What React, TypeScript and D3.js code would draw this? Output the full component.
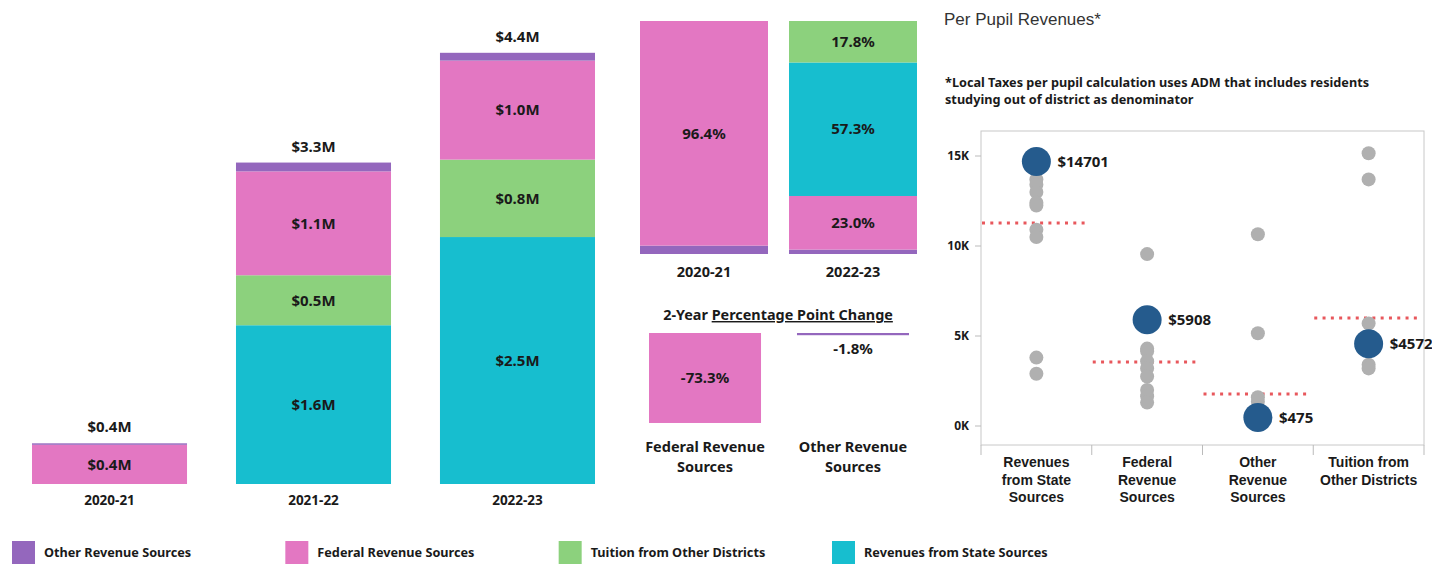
import React from 'react';
import * as d3 from 'd3';

// Stacked revenue by year ($M)
const years = ['2020-21', '2021-22', '2022-23'];
const stateRev = [0, 1.62, 2.52];
const tuitionRev = [0, 0.51, 0.79];
const federalRev = [0.4, 1.06, 1.01];
const otherRev = [0.015, 0.09, 0.08];

// Share of revenue (%)
const shareYears = ['2020-21', '2022-23'];
const otherShare = [3.6, 1.9];
const federalShare = [96.4, 23.0];
const stateShare = [0, 57.3];
const tuitionShare = [0, 17.8];

// 2-year percentage point change
const changeCats = ['Federal Revenue Sources', 'Other Revenue Sources'];
const changeVals = [-73.3, -1.8];

// Per pupil revenues
const pupilCats = ['Revenues from State Sources', 'Federal Revenue Sources', 'Other Revenue Sources', 'Tuition from Other Districts'];
const pupilCatLines = [['Revenues', 'from State', 'Sources'], ['Federal', 'Revenue', 'Sources'], ['Other', 'Revenue', 'Sources'], ['Tuition from', 'Other Districts']];
const peerState = [13700, 13400, 13000, 12400, 12250, 10900, 10500, 3800, 2900];
const peerFederal = [9550, 4300, 4150, 3600, 3200, 2750, 2000, 1650, 1300];
const peerOther = [10650, 5150, 1600, 1350];
const peerTuition = [15150, 13700, 5700, 3400, 3200];
const districtPupil = [14701, 5908, 475, 4572];
const peerAverage = [11280, 3560, 1780, 6000];
const pupilTicks = [0, 5000, 10000, 15000];

const legendKeys = ['Other Revenue Sources', 'Federal Revenue Sources', 'Tuition from Other Districts', 'Revenues from State Sources'];

const colors: Record<string, string> = {
  'Other Revenue Sources': '#9467bd',
  'Federal Revenue Sources': '#e377c2',
  'Tuition from Other Districts': '#8cd17d',
  'Revenues from State Sources': '#17becf',
};

const labelFont = '"Noto Sans", "Open Sans", sans-serif';
const arial = '"Liberation Sans", Arial, sans-serif';
const ink = '#1a1a1a';

const fmtM = (v: number) => `$${v.toFixed(1)}M`;

function RevenueBars() {
  const rows = years.map((year, i) => ({
    year,
    'Revenues from State Sources': stateRev[i],
    'Tuition from Other Districts': tuitionRev[i],
    'Federal Revenue Sources': federalRev[i],
    'Other Revenue Sources': otherRev[i],
  }));
  const keys = ['Revenues from State Sources', 'Tuition from Other Districts', 'Federal Revenue Sources', 'Other Revenue Sources'];
  const series = d3.stack<any>().keys(keys)(rows);

  const x = d3.scaleBand().domain(years).range([32, 595]).paddingInner(0.24);
  const y = d3.scaleLinear().domain([0, 4.5]).range([484, 43]);

  return (
    <g>
      {series.map((s) => (
        <g key={s.key} fill={colors[s.key]}>
          {s.map((d, i) => {
            const h = y(d[0]) - y(d[1]);
            if (h <= 0) return null;
            return <rect key={i} x={x(years[i])} y={y(d[1])} width={x.bandwidth()} height={h} />;
          })}
        </g>
      ))}
      {series.map((s) =>
        s.map((d, i) => {
          const v = d[1] - d[0];
          if (v < 0.3) return null;
          return (
            <text key={s.key + i} x={x(years[i])! + x.bandwidth() / 2} y={(y(d[0]) + y(d[1])) / 2} dy="0.35em"
              textAnchor="middle" fontFamily={labelFont} fontWeight={700} fontSize={15} fill={ink}>
              {fmtM(v)}
            </text>
          );
        })
      )}
      {years.map((year, i) => {
        const total = stateRev[i] + tuitionRev[i] + federalRev[i] + otherRev[i];
        return (
          <g key={year}>
            <text x={x(year)! + x.bandwidth() / 2} y={y(total) - 11} textAnchor="middle"
              fontFamily={labelFont} fontWeight={700} fontSize={15} fill={ink}>{fmtM(total)}</text>
            <text x={x(year)! + x.bandwidth() / 2} y={505} textAnchor="middle"
              fontFamily={labelFont} fontWeight={700} fontSize={13.5} fill={ink}>{year}</text>
          </g>
        );
      })}
    </g>
  );
}

function ShareBars() {
  const rows = shareYears.map((year, i) => ({
    year,
    'Other Revenue Sources': otherShare[i],
    'Federal Revenue Sources': federalShare[i],
    'Revenues from State Sources': stateShare[i],
    'Tuition from Other Districts': tuitionShare[i],
  }));
  const keys = ['Other Revenue Sources', 'Federal Revenue Sources', 'Revenues from State Sources', 'Tuition from Other Districts'];
  const series = d3.stack<any>().keys(keys)(rows);
  const x = d3.scaleBand().domain(shareYears).range([640, 917]).paddingInner(0.141);
  const y = d3.scaleLinear().domain([0, 100]).range([254, 21]);

  return (
    <g>
      {series.map((s) => (
        <g key={s.key} fill={colors[s.key]}>
          {s.map((d, i) => {
            const h = y(d[0]) - y(d[1]);
            if (h <= 0) return null;
            return <rect key={i} x={x(shareYears[i])} y={y(d[1])} width={x.bandwidth()} height={h} />;
          })}
        </g>
      ))}
      {series.map((s) =>
        s.map((d, i) => {
          const v = d[1] - d[0];
          if (v < 10) return null;
          return (
            <text key={s.key + i} x={x(shareYears[i])! + x.bandwidth() / 2} y={(y(d[0]) + y(d[1])) / 2} dy="0.35em"
              textAnchor="middle" fontFamily={labelFont} fontWeight={700} fontSize={15} fill={ink}>
              {v.toFixed(1)}%
            </text>
          );
        })
      )}
      {shareYears.map((year) => (
        <text key={year} x={x(year)! + x.bandwidth() / 2} y={277} textAnchor="middle"
          fontFamily={labelFont} fontWeight={700} fontSize={14.5} fill={ink}>{year}</text>
      ))}
    </g>
  );
}

function ChangeBars() {
  const x = d3.scaleBand().domain(changeCats).range([649, 909]).paddingInner(0.243);
  const y = d3.scaleLinear().domain([0, -80]).range([333, 431.2]);
  return (
    <g>
      <text x={778} y={320} textAnchor="middle" fontFamily={labelFont} fontWeight={700} fontSize={14.4} fill={ink}>
        2-Year <tspan textDecoration="underline">Percentage Point Change</tspan>
      </text>
      {changeCats.map((c, i) => {
        const v = changeVals[i];
        const h = y(v) - y(0);
        const cx = x(c)! + x.bandwidth() / 2;
        const inside = h > 20;
        const words = c.split(' ');
        const lines = [words.slice(0, 2).join(' '), words.slice(2).join(' ')];
        return (
          <g key={c}>
            <rect x={x(c)} y={y(0)} width={x.bandwidth()} height={h} fill={colors[c]} />
            <text x={cx} y={inside ? y(0) + h / 2 : y(v) + 14} dy="0.35em" textAnchor="middle"
              fontFamily={labelFont} fontWeight={700} fontSize={15} fill={ink}>{v.toFixed(1)}%</text>
            {lines.map((l, j) => (
              <text key={j} x={cx} y={452 + j * 20} textAnchor="middle" fontFamily={labelFont}
                fontWeight={700} fontSize={14.5} fill={ink}>{l}</text>
            ))}
          </g>
        );
      })}
    </g>
  );
}

function PupilScatter() {
  const peers = [peerState, peerFederal, peerOther, peerTuition];
  const left = 981;
  const right = 1424;
  const top = 131;
  const bottom = 445;
  const x = d3.scaleBand().domain(pupilCats).range([left, right]);
  const y = d3.scaleLinear().domain([-1055, 16389]).range([bottom, top]);
  const fmtK = (v: number) => `${v / 1000}K`;

  return (
    <g>
      <text x={944} y={25} fontFamily={arial} fontSize={17} fill="#333">Per Pupil Revenues*</text>
      <text fontFamily={labelFont} fontWeight={700} fontSize={12.7} fill={ink}>
        <tspan x={945} y={87}>*Local Taxes per pupil calculation uses ADM that includes residents</tspan>
        <tspan x={945} y={104}>studying out of district as denominator</tspan>
      </text>
      <rect x={left} y={top} width={right - left} height={bottom - top} fill="none" stroke="#c8c8c8" />
      {pupilTicks.map((t) => (
        <g key={t}>
          <line x1={left - 6} x2={left} y1={y(t)} y2={y(t)} stroke="#bbb" />
          <text x={left - 12} y={y(t)} dy="0.35em" textAnchor="end" fontFamily={labelFont}
            fontWeight={700} fontSize={12} fill={ink}>{fmtK(t)}</text>
        </g>
      ))}
      {pupilCats.map((c) => (
        <line key={c} x1={x(c)} x2={x(c)} y1={bottom} y2={bottom + 10} stroke="#bbb" />
      ))}
      <line x1={right} x2={right} y1={bottom} y2={bottom + 10} stroke="#bbb" />
      {pupilCats.map((c, i) => {
        const cx = x(c)! + x.bandwidth() / 2;
        return (
          <g key={c}>
            {pupilCatLines[i].map((l, j) => (
              <text key={j} x={cx} y={467 + j * 17.5} textAnchor="middle" fontFamily={arial}
                fontWeight={700} fontSize={14} fill={ink}>{l}</text>
            ))}
          </g>
        );
      })}
      {pupilCats.map((c, i) => (
        <line key={c} x1={x(c)! + 1} x2={x(c)! + x.bandwidth() - 5} y1={y(peerAverage[i])} y2={y(peerAverage[i])}
          stroke="#e8575c" strokeWidth={3} strokeDasharray="3 5.3" />
      ))}
      {pupilCats.map((c, i) => (
        <g key={c} fill="#b0b0b0">
          {peers[i].map((v, j) => (
            <circle key={j} cx={x(c)! + x.bandwidth() / 2} cy={y(v)} r={7} />
          ))}
        </g>
      ))}
      {pupilCats.map((c, i) => {
        const cx = x(c)! + x.bandwidth() / 2;
        return (
          <g key={c}>
            <circle cx={cx} cy={y(districtPupil[i])} r={14.5} fill="#255b8d" />
            <text x={cx + 21} y={y(districtPupil[i])} dy="0.35em" fontFamily={labelFont} fontWeight={700}
              fontSize={15} fill={ink}>${districtPupil[i]}</text>
          </g>
        );
      })}
    </g>
  );
}

function Legend() {
  const x = d3.scalePoint().domain(legendKeys).range([12, 832]);
  return (
    <g>
      {legendKeys.map((k) => (
        <g key={k} transform={`translate(${x(k)},541)`}>
          <rect width={23} height={23} fill={colors[k]} />
          <text x={32} y={12} dy="0.35em" fontFamily={labelFont} fontWeight={700} fontSize={12.7} fill={ink}>{k}</text>
        </g>
      ))}
    </g>
  );
}

export default function App() {
  return (
    <svg width={1432} height={580} style={{ position: 'absolute', left: 0, top: 0, background: '#fff' }}>
      <RevenueBars />
      <ShareBars />
      <ChangeBars />
      <PupilScatter />
      <Legend />
    </svg>
  );
}
